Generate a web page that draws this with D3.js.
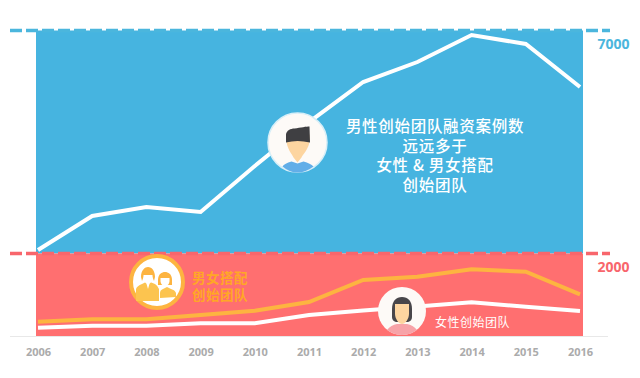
<!DOCTYPE html>
<html lang="zh">
<head>
<meta charset="utf-8">
<script src="https://cdn.jsdelivr.net/npm/d3@7"></script>
<style>
  html, body { margin: 0; background: #fff; }
  svg { display: block; }
  text { font-family: "Noto Sans CJK SC", "Noto Sans", sans-serif; }
  .tick text { font-family: "Open Sans", sans-serif; font-weight: 700; }
</style>
</head>
<body>
<div id="plot"></div>
<script>
// data
const years = [2006, 2007, 2008, 2009, 2010, 2011, 2012, 2013, 2014, 2015, 2016];
const maleTeams = [2078, 2840, 3042, 2930, 3962, 4948, 5845, 6293, 6899, 6697, 5733];
const mixedTeams = [471, 524, 524, 621, 717, 912, 1406, 1480, 1645, 1592, 1085];
const femaleTeams = [336, 381, 381, 435, 435, 621, 722, 811, 906, 807, 711];
const refValues = [7000, 2000];
const mainNote = ["男性创始团队融资案例数", "远远多于", "女性 & 男女搭配", "创始团队"];
const mixedNote = ["男女搭配", "创始团队"];
const femaleNote = ["女性创始团队"];

const w = 640;
const h = 378;
const baseY = 336;
const blue = "#46b4e0";
const red = "#ff6f70";
const orange = "#fdb440";

const svg = d3.select("div#plot")
  .append("svg")
    .attr("width", w)
    .attr("height", h);

const xScale = d3.scalePoint()
  .domain(years)
  .range([38, 580]);

const yScale = d3.scaleLinear()
  .domain([150, 7000])
  .range([baseY, 30.5]);

// background bands
svg.append("rect")
  .attr("x", 36)
  .attr("y", yScale(7000))
  .attr("width", 547)
  .attr("height", yScale(2000) - yScale(7000))
  .attr("fill", blue);

svg.append("rect")
  .attr("x", 36)
  .attr("y", yScale(2000))
  .attr("width", 547)
  .attr("height", baseY - yScale(2000))
  .attr("fill", red);

// dashed reference lines + labels
const refColor = d3.scaleOrdinal().domain(refValues).range(["#4bb6dd", "#f8666c"]);

svg.selectAll("line.ref")
  .data(refValues)
  .enter()
  .append("line")
    .attr("class", "ref")
    .attr("x1", 10)
    .attr("x2", 610)
    .attr("y1", d => yScale(d))
    .attr("y2", d => yScale(d))
    .attr("stroke", d => refColor(d))
    .attr("stroke-width", 3.5)
    .attr("stroke-dasharray", "12 4");

svg.selectAll("text.ref")
  .data(refValues)
  .enter()
  .append("text")
    .attr("class", "ref")
    .attr("x", 613.5)
    .attr("y", d => yScale(d) + 18.5)
    .attr("text-anchor", "middle")
    .attr("fill", d => refColor(d))
    .style("font-family", '"Open Sans", sans-serif')
    .style("font-weight", 700)
    .style("font-size", "14px")
    .text(d => d);

// x axis
const xAxis = d3.axisBottom(xScale).tickSize(0).tickPadding(12);
const xg = svg.append("g")
  .attr("transform", `translate(0, ${baseY})`)
  .call(xAxis);
xg.select(".domain").remove();
xg.selectAll("text").attr("fill", "#ababab").style("font-size", "11px");

svg.append("line")
  .attr("x1", 10)
  .attr("x2", 608)
  .attr("y1", baseY + 0.5)
  .attr("y2", baseY + 0.5)
  .attr("stroke", "#e8e8e8");

// lines
const line = d3.line()
  .x((d, i) => xScale(years[i]))
  .y(d => yScale(d));

[[maleTeams, "#fff"], [mixedTeams, orange], [femaleTeams, "#fff"]].forEach(s => {
  svg.append("path")
    .attr("d", line(s[0]))
    .attr("fill", "none")
    .attr("stroke", s[1])
    .attr("stroke-width", 4);
});

// notes
function note(lines, cx, cy, step, size, spacing, color, weight) {
  svg.append("g").selectAll("text")
    .data(lines)
    .enter()
    .append("text")
      .attr("x", cx)
      .attr("y", (d, i) => cy + i * step)
      .attr("text-anchor", "middle")
      .attr("dominant-baseline", "central")
      .attr("fill", color)
      .style("font-size", size + "px")
      .style("font-weight", weight)
      .style("letter-spacing", spacing + "px")
      .text(d => d);
}
note(mainNote, 435, 125, 19.7, 15.5, 0.7, "#fff", 500);
note(mixedNote, 220, 276.5, 17.5, 13.5, 0.5, "#ffa726", 700);
note(femaleNote, 472.5, 321.5, 0, 12, 0.5, "#fff", 400);

// avatars
function avatar(cx, cy) {
  return svg.append("g").attr("transform", `translate(${cx}, ${cy})`);
}

// man
const man = avatar(297.5, 142.5);
man.append("circle").attr("r", 29.5).attr("fill", "#fdfaf7").attr("stroke", "#d8eff8").attr("stroke-width", 1.5);
man.append("path")
  .attr("d", "M-15,24 Q-13,21 -6,19 L0,21 L6,19 Q13,21 16,24 Q8,30 0,30 Q-8,30 -15,24Z")
  .attr("fill", "#62aee8");
man.append("path")
  .attr("d", "M-11,-2 C-11,6 -5,12 -4,15 L0,20 L4,15 C5,12 12,6 12,-2 L12,-8 L-11,-8Z")
  .attr("fill", "#fdd5a0");
man.append("path")
  .attr("d", "M-11.5,0 L-11.5,-8 C-11,-12 -7,-14 -3,-14 C3,-15 9,-16 12,-16 L12.5,0 C4,-2 -4,-2 -11.5,0Z")
  .attr("fill", "#3f3f42");

// mixed team
const team = avatar(157, 282);
team.append("circle").attr("r", 26).attr("fill", "#fff").attr("stroke", orange).attr("stroke-width", 4);
team.append("path")
  .attr("d", "M-21,19 L-21,7 Q-20,4 -15,2 L-11,0 L-9,7 L-7,0 L-2,2 Q1,4 2,7 L2,19Z")
  .attr("fill", "#fcc44f");
team.append("path")
  .attr("d", "M3,16 L3,11 Q3,8 6,7 L10,5 L14,7 Q18,8 19,11 L19,15 Z")
  .attr("fill", "#fcc44f");
team.append("path")
  .attr("d", "M-16,-5 C-16,-12 -12,-15 -9,-15 C-5,-15 -2,-11 -2,-5 L-3,-1 L-5,-6 L-13,-6 L-15,-1Z")
  .attr("fill", orange);
team.append("path")
  .attr("d", "M-13.5,-7 L-4.5,-7 L-4.5,-3 C-4.5,-1 -7,2 -9,2 C-11,2 -13.5,-1 -13.5,-3Z")
  .attr("fill", "#fff");
team.append("path")
  .attr("d", "M1,-2 C1,-8 5,-10 8,-10 C11,-10 15,-8 15,-2 L15,3 L1,3Z")
  .attr("fill", orange);
team.append("path")
  .attr("d", "M3.5,-4 L12.5,-4 L12.5,-1 C12.5,2 10,4 8,4 C6,4 3.5,2 3.5,-1Z")
  .attr("fill", "#fff");

// woman
const woman = avatar(402, 311);
woman.append("circle").attr("r", 24).attr("fill", "#fdfaf7");
woman.append("path")
  .attr("d", "M-15,19 Q-11,14 -5,13 L5,13 Q11,14 15,19 Q8,24 0,24 Q-8,24 -15,19Z")
  .attr("fill", "#f7a3a8");
woman.append("path")
  .attr("d", "M-10,-2 C-10,-10 -6,-14 0,-14 C6,-14 10,-10 10,-2 L10,6 Q10,10 6,11 L-6,11 Q-10,10 -10,6Z")
  .attr("fill", "#48464a");
woman.append("path")
  .attr("d", "M-7,-7 L7,-7 L7,3 C7,8 3,13 0,13 C-3,13 -7,8 -7,3Z")
  .attr("fill", "#fdd5a0");
</script>
</body>
</html>
